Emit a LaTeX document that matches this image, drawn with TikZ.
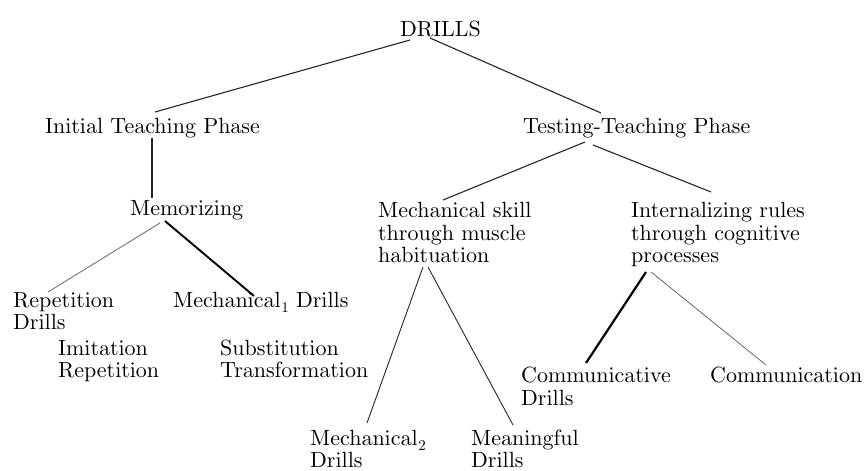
\documentclass[tikz,border=0pt]{standalone}
\usetikzlibrary{calc}
\font\lbfont=cmr10 at 22bp
\font\subfont=cmr10 at 15bp
\newcommand{\lowsub}[1]{\kern0.5bp\lower5bp\hbox{\subfont #1}}
\begin{document}
\begin{tikzpicture}[x=1bp,y=-1bp,
  lbl/.style={anchor=base west, inner sep=0pt, font=\lbfont},
  edge/.style={line width=1.1bp, draw=black!85},
  thinedge/.style={line width=0.8bp, draw=black!60},
  thickedge/.style={line width=1.9bp, draw=black}]
\useasboundingbox[fill=white] (0,0) rectangle (866,471);
% nodes
\node[lbl] (drills) at (400,37) {DRILLS};
\node[lbl] (itp) at (45,134) {Initial Teaching Phase};
\node[lbl] (ttp) at (523,134) {Testing-Teaching Phase};
\node[lbl] (mem) at (130,216) {Memorizing};
\node[lbl] (ms1) at (378,218) {Mechanical skill};
\node[lbl] (ms2) at (378,240.5) {through muscle};
\node[lbl] (ms3) at (378,263) {habituation};
\node[lbl] (ir1) at (631,218) {Internalizing rules};
\node[lbl] (ir2) at (631,240.5) {through cognitive};
\node[lbl] (ir3) at (631,263) {processes};
\node[lbl] (rd1) at (13,308) {Repetition};
\node[lbl] (rd2) at (13,330) {Drills};
\node[lbl] (md1) at (173,308) {Mechanical\lowsub{1} Drills};
\node[lbl] (im1) at (58,356) {Imitation};
\node[lbl] (im2) at (58,378) {Repetition};
\node[lbl] (st1) at (220,356) {Substitution};
\node[lbl] (st2) at (220,378) {Transformation};
\node[lbl] (cd1) at (521,383) {Communicative};
\node[lbl] (cd2) at (521,405) {Drills};
\node[lbl] (comm) at (710,383) {Communication};
\node[lbl] (m2a) at (310,445) {Mechanical\lowsub{2}};
\node[lbl] (m2b) at (310,467) {Drills};
\node[lbl] (mf1) at (471,445) {Meaningful};
\node[lbl] (mf2) at (471,467) {Drills};
% connectors
\draw[edge] ($(drills.base west)+(10,3)$) -- ($(itp.base west)+(110,-22)$);
\draw[edge] ($(drills.base west)+(30,1)$) -- ($(ttp.base west)+(78,-21)$);
\draw[edge,line width=1.3bp] ($(itp.base west)+(107,4)$) -- ($(mem.base west)+(22,-18)$);
\draw[thinedge] ($(mem.base west)+(30,7)$) -- ($(rd1.base west)+(35,-16)$);
\draw[thickedge] ($(mem.base west)+(35,5)$) -- ($(md1.base west)+(81,-12)$);
\draw[edge] ($(ttp.base west)+(62,8)$) -- ($(ms1.base west)+(65,-18)$);
\draw[edge] ($(ttp.base west)+(70,11)$) -- ($(ir1.base west)+(80,-26)$);
\draw[edge,line width=0.9bp] ($(ms3.base west)+(45,4)$) -- ($(m2a.base west)+(57,-22)$);
\draw[edge,line width=0.9bp] ($(ms3.base west)+(50,4)$) -- ($(mf1.base west)+(42,-20)$);
\draw[thickedge,line width=2.2bp] ($(ir3.base west)+(15,9)$) -- ($(cd1.base west)+(65,-20)$);
\draw[thinedge] ($(ir3.base west)+(20,9)$) -- ($(comm.base west)+(56,-18)$);
\end{tikzpicture}
\end{document}
